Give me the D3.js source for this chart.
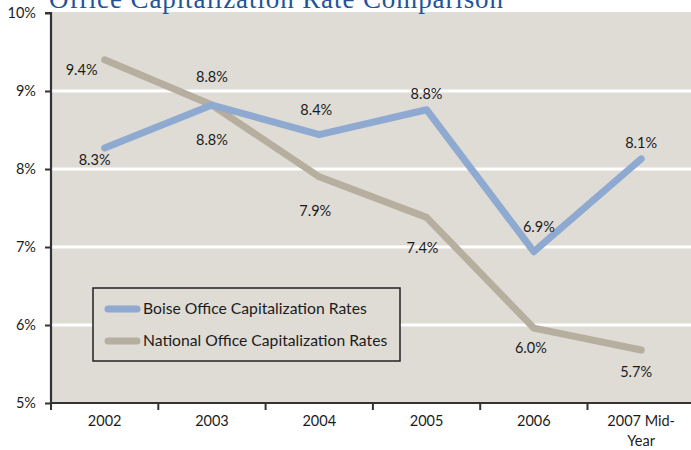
<!DOCTYPE html>
<html>
<head>
<meta charset="utf-8">
<script src="https://cdn.jsdelivr.net/npm/d3@7"></script>
<style>
  html, body { margin: 0; padding: 0; background: #fff; }
  svg { display: block; }
</style>
</head>
<body>
<svg id="chart" width="691" height="450"></svg>
<script>
// data
const years = ['2002', '2003', '2004', '2005', '2006', '2007 Mid-Year'];
const boise = [8.27, 8.82, 8.44, 8.76, 6.94, 8.13];
const national = [9.4, 8.82, 7.9, 7.38, 5.96, 5.68];
const yTicks = [5, 6, 7, 8, 9, 10];
const seriesNames = ['Boise Office Capitalization Rates', 'National Office Capitalization Rates'];

// label nudges (px) relative to the point
const boiseNudge = [[-10, 12], [0, 35], [-3, -25], [0, -16], [5, -25], [0, -16]];
const nationalNudge = [[-23, 10], [0, -28], [-4, 34], [-4, 31], [-3, 20], [-5, 22]];

const W = 691, H = 450;
const margin = { top: 13, right: 0, bottom: 47, left: 51 };
const font = 'Lato, "Open Sans", sans-serif';
const ink = '#1c1c1c';

const svg = d3.select('#chart');

const x = d3.scaleBand()
    .domain(years)
    .range([margin.left, margin.left + 6 * 107.3]);
const y = d3.scaleLinear()
    .domain([5, 10])
    .range([H - margin.bottom, margin.top]);

const cx = d => x(d) + x.bandwidth() / 2;

// plot background
svg.append('rect')
    .attr('x', margin.left)
    .attr('y', y(10) - 1)
    .attr('width', W - margin.left)
    .attr('height', y(5) - y(10) + 1)
    .attr('fill', '#dfdbd5');

// title (cut off at top like the reference)
svg.append('text')
    .attr('x', 49)
    .attr('y', 8)
    .attr('font-family', '"Liberation Serif", "DejaVu Serif", serif')
    .attr('font-size', 27)
    .attr('fill', '#1f5499')
    .attr('textLength', 454)
    .text('Office Capitalization Rate Comparison');

// gridlines
svg.append('g')
  .selectAll('line')
  .data(yTicks.filter(t => t > 5 && t < 10))
  .join('line')
    .attr('x1', margin.left)
    .attr('x2', W)
    .attr('y1', d => y(d))
    .attr('y2', d => y(d))
    .attr('stroke', '#fff')
    .attr('stroke-width', 3);

// y axis
const yAxis = d3.axisLeft(y)
    .tickValues(yTicks)
    .tickFormat(d => d + '%')
    .tickSize(6)
    .tickPadding(9);
const gy = svg.append('g')
    .attr('transform', `translate(${margin.left},0)`)
    .call(yAxis);
gy.select('.domain').attr('stroke', '#333').attr('stroke-width', 2.2).attr('d', `M-6,${y(10)}H0V${y(5)}`);
gy.selectAll('.tick line').attr('stroke', '#333').attr('stroke-width', 2);
gy.selectAll('.tick text')
    .attr('font-family', font)
    .attr('font-size', 14.5)
    .attr('fill', ink);

// x axis
const xAxis = d3.axisBottom(x).tickSize(0).tickPadding(13);
const gx = svg.append('g')
    .attr('transform', `translate(0,${y(5)})`)
    .call(xAxis);
gx.select('.domain').attr('stroke', '#333').attr('stroke-width', 2.2).attr('d', `M${margin.left},0H${W}`);
gx.selectAll('.tick text')
    .attr('font-family', font)
    .attr('font-size', 14.5)
    .attr('fill', ink)
    .each(function (d) {
      const t = d3.select(this);
      if (d.indexOf('Mid-') > 0) {
        t.text(null);
        t.append('tspan').attr('x', 0).attr('dy', '0.71em').text('2007 Mid-');
        t.append('tspan').attr('x', 0).attr('dy', '1.35em').text('Year');
        t.attr('dy', null);
      }
    });
// ticks between categories
gx.append('g')
  .selectAll('line')
  .data(years.map(d => x(d)).concat([x(years[years.length - 1]) + x.bandwidth()]))
  .join('line')
    .attr('x1', d => d)
    .attr('x2', d => d)
    .attr('y1', 0)
    .attr('y2', 7)
    .attr('stroke', '#333')
    .attr('stroke-width', 2);

// lines
const line = d3.line().x((d, i) => cx(years[i])).y(d => y(d));
const series = [
  { values: national, color: '#b6af9f', nudge: nationalNudge },
  { values: boise, color: '#8eaad1', nudge: boiseNudge }
];
series.forEach(s => {
  svg.append('path')
    .datum(s.values)
    .attr('d', line)
    .attr('fill', 'none')
    .attr('stroke', s.color)
    .attr('stroke-width', 7)
    .attr('stroke-linejoin', 'round')
    .attr('stroke-linecap', 'round');
});

// data labels
series.forEach(s => {
  svg.append('g')
    .selectAll('text')
    .data(s.values)
    .join('text')
      .attr('x', (d, i) => cx(years[i]) + s.nudge[i][0])
      .attr('y', (d, i) => y(d) + s.nudge[i][1])
      .attr('dy', '0.35em')
      .attr('text-anchor', 'middle')
      .attr('font-family', font)
      .attr('font-size', 14.5)
      .attr('fill', ink)
      .text(d => d3.format('.1f')(d) + '%');
});

// legend
const lg = svg.append('g').attr('transform', 'translate(93,288)');
lg.append('rect')
    .attr('width', 307)
    .attr('height', 73)
    .attr('fill', '#dfdbd5')
    .attr('stroke', '#222')
    .attr('stroke-width', 1.5);
[boise, national].forEach((s, i) => {
  const yy = 21 + i * 32;
  lg.append('line')
    .attr('x1', 15).attr('x2', 44)
    .attr('y1', yy).attr('y2', yy)
    .attr('stroke', i === 0 ? '#8eaad1' : '#b6af9f')
    .attr('stroke-width', 7)
    .attr('stroke-linecap', 'round');
  lg.append('text')
    .attr('x', 50)
    .attr('y', yy)
    .attr('dy', '0.35em')
    .attr('font-family', font)
    .attr('font-size', 15.7)
    .attr('fill', ink)
    .text(seriesNames[i]);
});
</script>
</body>
</html>
